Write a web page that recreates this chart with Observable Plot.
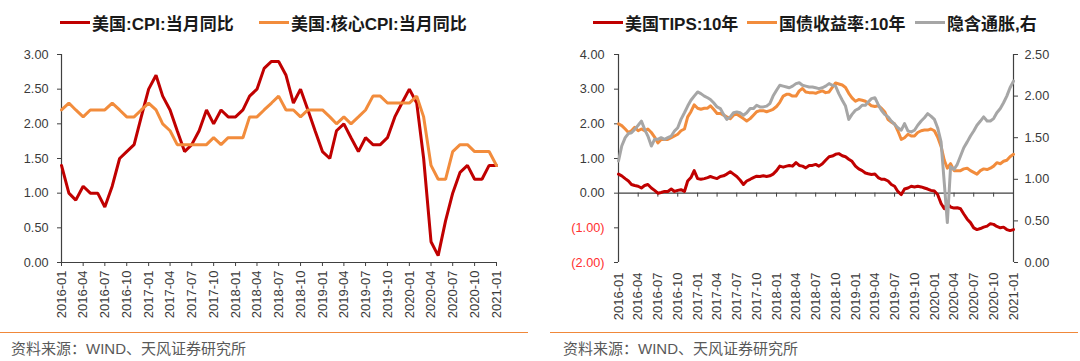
<!DOCTYPE html>
<html>
<head>
<meta charset="utf-8">
<script src="https://cdn.jsdelivr.net/npm/d3@7"></script>
<script src="https://cdn.jsdelivr.net/npm/@observablehq/plot@0.6"></script>
<style>
  body { margin:0; width:1080px; height:361px; background:#fff; position:relative; overflow:hidden;
         font-family:"Liberation Sans","Noto Sans CJK SC",sans-serif; }
  .chart { position:absolute; top:40px; }
  .leg { position:absolute; top:11px; height:22px; display:flex; align-items:center; font-weight:bold;
         font-size:17px; color:#1a1a1a; white-space:nowrap; }
  .sw { display:inline-block; width:30px; height:3px; margin-right:2px; }
  .rule { position:absolute; top:332px; height:1px; background:#F0883A; }
  .src { position:absolute; top:340px; font-size:15px; line-height:18px; color:#595959; white-space:nowrap; }
</style>
</head>
<body>
<div class="leg" style="left:60px"><span class="sw" style="background:#C00000"></span>美国:CPI:当月同比</div>
<div class="leg" style="left:259px"><span class="sw" style="background:#F28C3C"></span>美国:核心CPI:当月同比</div>
<div class="leg" style="left:593px"><span class="sw" style="background:#C00000"></span>美国TIPS:10年</div>
<div class="leg" style="left:747px"><span class="sw" style="background:#F28C3C"></span>国债收益率:10年</div>
<div class="leg" style="left:915px"><span class="sw" style="background:#A6A6A6"></span>隐含通胀,右</div>
<div id="left" class="chart" style="left:0px"></div>
<div id="right" class="chart" style="left:540px"></div>
<div class="rule" style="left:0px;width:528px"></div>
<div class="rule" style="left:550px;width:528px"></div>
<div class="src" style="left:11px">资料来源：WIND、天风证券研究所</div>
<div class="src" style="left:563px">资料来源：WIND、天风证券研究所</div>
<script>
// ---------- Left chart: monthly CPI YoY, 2016-01 .. 2021-01 ----------
const cpiStart = "2016-01";
const cpi = [1.4,1.0,0.9,1.1,1.0,1.0,0.8,1.1,1.5,1.6,1.7,2.1,
             2.5,2.7,2.4,2.2,1.9,1.6,1.7,1.9,2.2,2.0,2.2,2.1,
             2.1,2.2,2.4,2.5,2.8,2.9,2.9,2.7,2.3,2.5,2.2,1.9,
             1.6,1.5,1.9,2.0,1.8,1.6,1.8,1.7,1.7,1.8,2.1,2.3,
             2.5,2.3,1.5,0.3,0.1,0.6,1.0,1.3,1.4,1.2,1.2,1.4,
             1.4];
const coreCpi = [2.2,2.3,2.2,2.1,2.2,2.2,2.2,2.3,2.2,2.1,2.1,2.2,
                 2.3,2.2,2.0,1.9,1.7,1.7,1.7,1.7,1.7,1.8,1.7,1.8,
                 1.8,1.8,2.1,2.1,2.2,2.3,2.4,2.2,2.2,2.1,2.2,2.2,
                 2.2,2.1,2.0,2.1,2.0,2.1,2.2,2.4,2.4,2.3,2.3,2.3,
                 2.3,2.4,2.1,1.4,1.2,1.2,1.6,1.7,1.7,1.6,1.6,1.6,
                 1.4];
const leftYTicks = [0, 0.5, 1, 1.5, 2, 2.5, 3];

// ---------- Right chart: semi-monthly readings (1st and 16th of each month) ----------
const rateStart = "2016-01-01";
const tenYear = [2.00,1.95,1.85,1.75,1.80,1.90,1.80,1.85,1.80,1.85,
                 1.75,1.62,1.45,1.55,1.55,1.55,1.60,1.65,1.70,1.80,
                 1.85,2.20,2.35,2.55,2.45,2.42,2.45,2.45,2.52,2.42,
                 2.30,2.30,2.25,2.20,2.15,2.25,2.28,2.22,2.15,2.08,
                 2.15,2.25,2.35,2.38,2.38,2.35,2.38,2.42,2.50,2.62,
                 2.80,2.85,2.85,2.80,2.80,2.95,3.02,2.92,2.90,2.90,
                 2.88,2.92,2.95,2.90,2.92,3.05,3.18,3.15,3.12,3.05,
                 2.88,2.75,2.65,2.70,2.68,2.65,2.60,2.52,2.50,2.52,
                 2.45,2.35,2.12,2.05,2.00,1.80,1.55,1.60,1.70,1.65,
                 1.65,1.75,1.80,1.82,1.82,1.85,1.80,1.62,1.35,0.95,
                 0.72,0.85,0.65,0.65,0.65,0.70,0.72,0.65,0.60,0.55,
                 0.65,0.70,0.68,0.72,0.78,0.88,0.85,0.92,0.95,1.05,
                 1.12];
const tips = [0.55,0.50,0.42,0.35,0.25,0.22,0.20,0.15,0.22,0.25,
              0.15,0.08,0.00,0.02,0.05,0.05,0.12,0.05,0.08,0.10,
              0.05,0.35,0.45,0.65,0.42,0.40,0.42,0.45,0.48,0.45,
              0.42,0.48,0.50,0.55,0.62,0.55,0.48,0.38,0.25,0.35,
              0.40,0.45,0.49,0.48,0.50,0.48,0.50,0.55,0.65,0.78,
              0.75,0.78,0.80,0.78,0.88,0.80,0.78,0.73,0.80,0.80,
              0.83,0.78,0.85,0.95,1.05,1.07,1.12,1.14,1.08,1.05,
              0.98,0.92,0.78,0.70,0.65,0.58,0.56,0.54,0.55,0.45,
              0.40,0.40,0.35,0.25,0.20,0.05,-0.04,0.12,0.15,0.20,
              0.18,0.20,0.18,0.15,0.12,0.08,0.06,-0.04,-0.30,-0.45,
              -0.30,-0.40,-0.43,-0.42,-0.45,-0.60,-0.75,-0.85,-1.00,-1.05,
              -1.02,-0.98,-0.95,-0.88,-0.90,-0.96,-1.00,-0.98,-1.05,-1.08,
              -1.05];
const breakeven = [1.22,1.40,1.50,1.55,1.56,1.60,1.65,1.70,1.60,1.52,
                   1.40,1.48,1.48,1.50,1.48,1.50,1.52,1.58,1.62,1.72,
                   1.80,1.88,1.95,2.00,2.05,2.03,2.00,1.98,1.96,1.92,
                   1.87,1.85,1.78,1.72,1.75,1.80,1.81,1.80,1.77,1.80,
                   1.85,1.85,1.89,1.87,1.87,1.88,1.91,2.00,2.07,2.13,
                   2.12,2.11,2.10,2.12,2.15,2.16,2.13,2.12,2.11,2.11,
                   2.10,2.09,2.10,2.12,2.15,2.13,2.12,2.03,1.95,1.88,
                   1.72,1.78,1.83,1.85,1.89,1.89,1.93,1.97,1.98,1.90,
                   1.83,1.78,1.75,1.70,1.66,1.62,1.59,1.67,1.58,1.57,
                   1.59,1.65,1.70,1.74,1.79,1.76,1.72,1.62,1.45,0.95,
                   0.48,1.15,1.12,1.18,1.28,1.38,1.45,1.52,1.58,1.65,
                   1.70,1.75,1.70,1.70,1.73,1.80,1.85,1.92,2.00,2.10,
                   2.18];
const rightLeftTicksPos = [0, 1, 2, 3, 4];
const rightLeftTicksNeg = [-1, -2];
const rightAxisTicks = [0, 0.5, 1, 1.5, 2, 2.5];

// ---------- build tables ----------
const t0 = d3.utcParse("%Y-%m")(cpiStart);
const monthRows = cpi.map((v, i) => ({date: d3.utcMonth.offset(t0, i), cpi: v, core: coreCpi[i]}));
const xStart = t0, xEnd = d3.utcMonth.offset(t0, 60);
const xTicks = d3.utcMonth.every(3).range(xStart, d3.utcDay.offset(xEnd, 1));

const r0 = d3.utcParse("%Y-%m-%d")(rateStart);
const rateRows = tenYear.map((v, i) => {
  const m = d3.utcMonth.offset(r0, Math.floor(i / 2));
  return {date: i % 2 ? d3.utcDay.offset(m, 15) : m, n: v, r: tips[i], b: breakeven[i]};
});

const fmt = d3.utcFormat("%Y-%m");
const axisColor = "#404040";
const baseStyle = {fontFamily: '"Liberation Sans", Arial, sans-serif', fontSize: "12.7px", color: "#3a3a3a", background: "transparent"};

const left = Plot.plot({
  width: 540, height: 288,
  marginLeft: 61, marginRight: 44, marginTop: 14, marginBottom: 66,
  style: baseStyle,
  x: {type: "utc", domain: [xStart, xEnd]},
  y: {domain: [0, 3], label: null},
  marks: [
    Plot.axisX(xTicks, {tickFormat: fmt, tickRotate: -90, tickSize: 4, tickPadding: 4, label: null, fontSize: 13, stroke: axisColor}),
    Plot.axisY(leftYTicks, {tickFormat: d => d.toFixed(2), tickSize: 4, tickPadding: 9, label: null, stroke: axisColor}),
    Plot.ruleY([0], {stroke: axisColor, strokeWidth: 1.2}),
    Plot.ruleX([xStart], {stroke: axisColor, strokeWidth: 1.2}),
    Plot.lineY(monthRows, {x: "date", y: "cpi", stroke: "#C00000", strokeWidth: 3, strokeLinejoin: "miter"}),
    Plot.lineY(monthRows, {x: "date", y: "core", stroke: "#F28C3C", strokeWidth: 3, strokeLinejoin: "miter"})
  ]
});
document.getElementById("left").appendChild(left);

const toLeft = v => -2 + v * 6 / 2.5;
const fromLeft = d => (d + 2) * 2.5 / 6;

const right = Plot.plot({
  width: 540, height: 288,
  marginLeft: 78, marginRight: 67, marginTop: 14, marginBottom: 66,
  style: baseStyle,
  x: {type: "utc", domain: [xStart, xEnd]},
  y: {domain: [-2, 4], label: null},
  marks: [
    Plot.axisX(xTicks, {tickFormat: fmt, tickRotate: -90, tickSize: 0, tickPadding: 10, label: null, fontSize: 13}),
    Plot.axisY(rightLeftTicksPos, {tickFormat: d => d.toFixed(2), tickSize: 4, tickPadding: 10, label: null, stroke: axisColor}),
    Plot.axisY(rightLeftTicksNeg, {tickFormat: d => `(${(-d).toFixed(2)})`, tickSize: 4, tickPadding: 10, label: null, stroke: axisColor, fill: "#FF3030"}),
    Plot.axisY(rightAxisTicks.map(toLeft), {anchor: "right", tickFormat: d => fromLeft(d).toFixed(2), tickSize: 4, tickPadding: 7, label: null, stroke: axisColor}),
    Plot.ruleX([xStart], {stroke: axisColor, strokeWidth: 1.2}),
    Plot.ruleX([xEnd], {stroke: axisColor, strokeWidth: 1.2}),
    Plot.ruleY([0], {stroke: axisColor, strokeWidth: 1.2}),
    Plot.ruleX(xTicks, {y1: 0, y2: 0, insetBottom: -4, stroke: axisColor}),
    Plot.lineY(rateRows, {x: "date", y: "r", stroke: "#C00000", strokeWidth: 3}),
    Plot.lineY(rateRows, {x: "date", y: "n", stroke: "#F28C3C", strokeWidth: 3}),
    Plot.lineY(rateRows, {x: "date", y: d => toLeft(d.b), stroke: "#A6A6A6", strokeWidth: 3})
  ]
});
document.getElementById("right").appendChild(right);
</script>
</body>
</html>
